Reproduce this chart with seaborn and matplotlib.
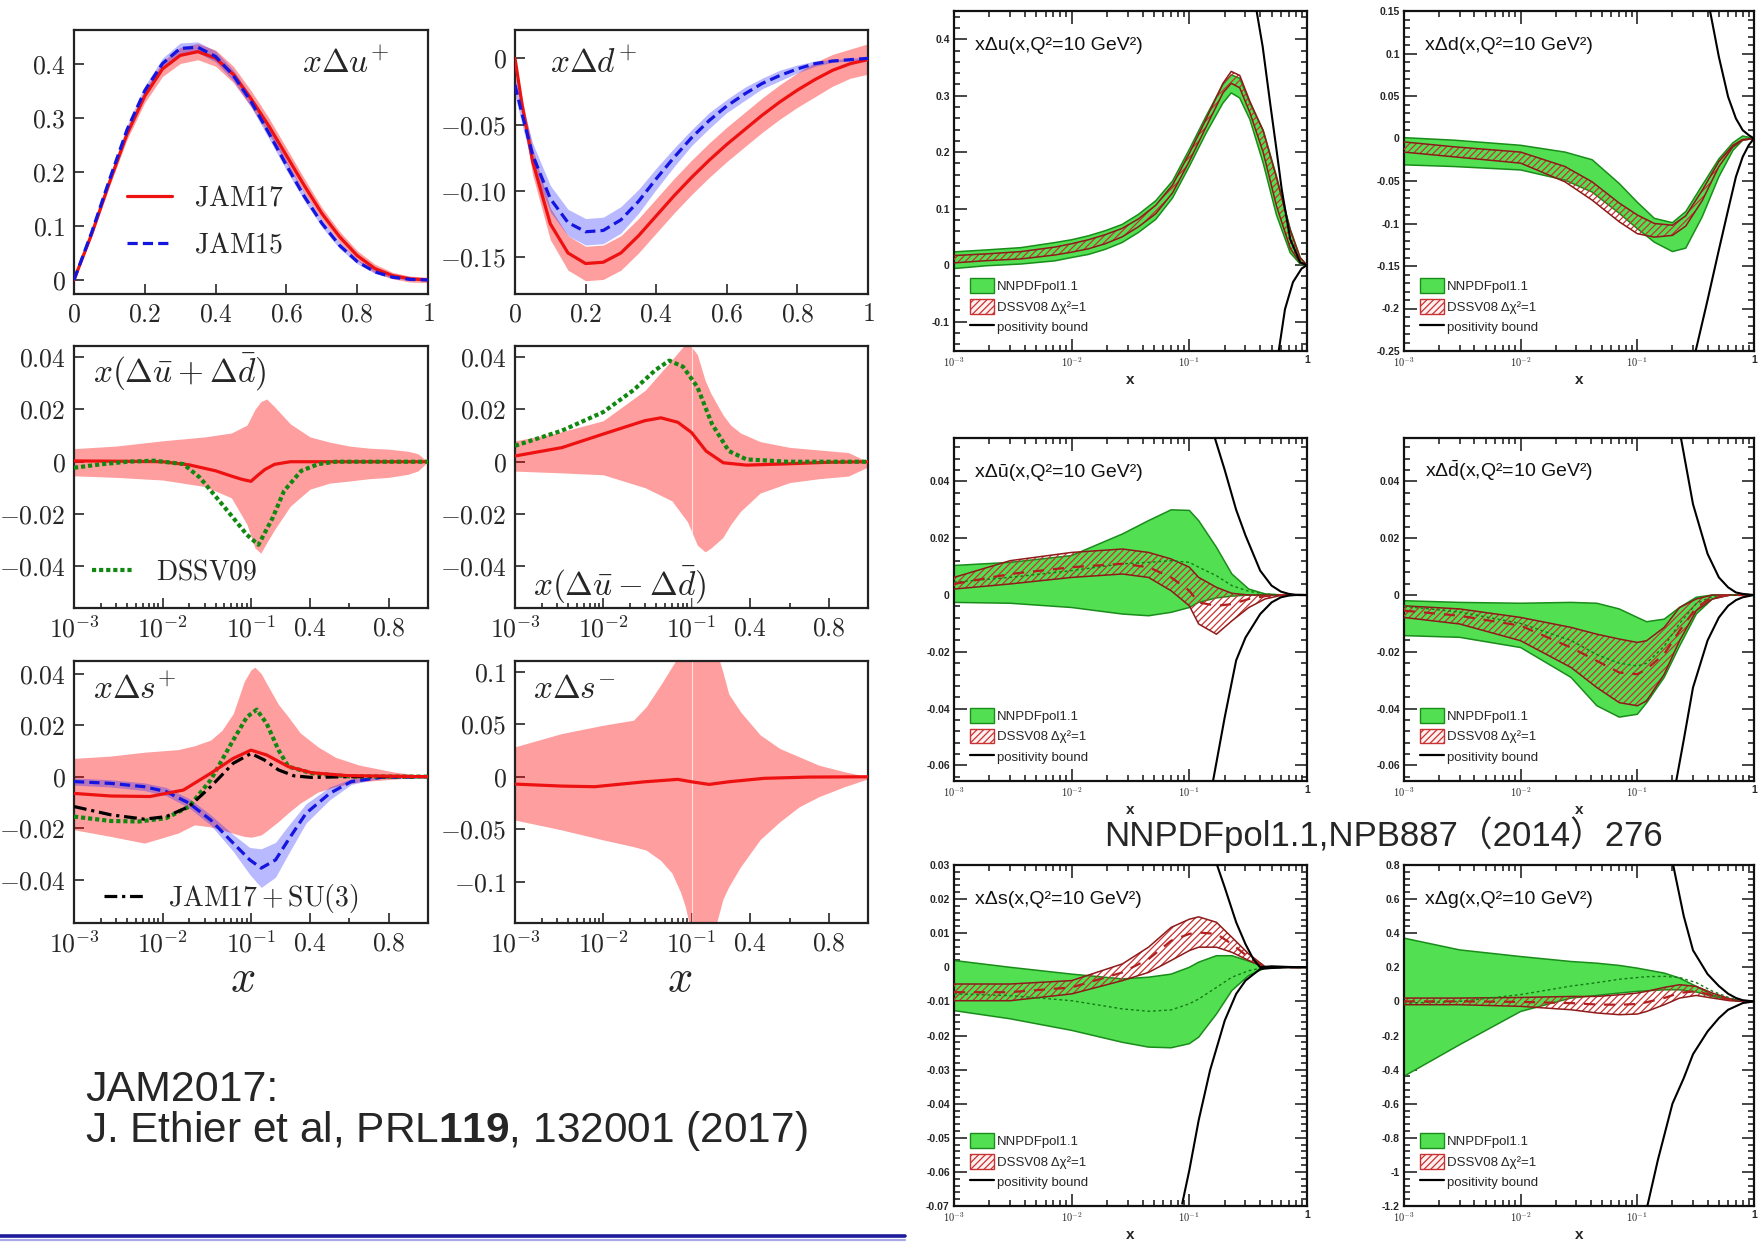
import numpy as np
import matplotlib
matplotlib.use('Agg')
import matplotlib.pyplot as plt
import seaborn as sns
from matplotlib.lines import Line2D
from matplotlib.patches import Patch
from matplotlib.ticker import FixedLocator, FixedFormatter, AutoMinorLocator, LogLocator, NullFormatter

# ---------------------------------------------------------------- JAM data
# xΔu+ (linear x)
ju_x = [0, 0.05, 0.1, 0.15, 0.2, 0.25, 0.3, 0.35, 0.4, 0.45, 0.5, 0.55, 0.6, 0.65, 0.7, 0.75, 0.8, 0.85, 0.9, 0.95, 1.0]
ju_17 = [0, 0.085, 0.18, 0.27, 0.34, 0.39, 0.415, 0.422, 0.41, 0.38, 0.335, 0.285, 0.23, 0.175, 0.123, 0.08, 0.045, 0.021, 0.008, 0.002, 0]
ju_17_up = [0.0, 0.09, 0.187, 0.28, 0.352, 0.404, 0.43, 0.437, 0.425, 0.395, 0.35, 0.3, 0.244, 0.188, 0.134, 0.09, 0.054, 0.029, 0.014, 0.007, 0.005]
ju_17_lo = [0.0, 0.08, 0.173, 0.26, 0.328, 0.376, 0.4, 0.407, 0.395, 0.365, 0.32, 0.27, 0.216, 0.162, 0.112, 0.07, 0.036, 0.013, 0.002, -0.004, -0.005]
ju_15 = [0, 0.088, 0.185, 0.278, 0.35, 0.40, 0.428, 0.43, 0.413, 0.378, 0.33, 0.272, 0.212, 0.155, 0.105, 0.064, 0.034, 0.015, 0.005, 0.001, 0]
ju_15_up = [0, 0.092, 0.191, 0.286, 0.359, 0.41, 0.438, 0.44, 0.423, 0.388, 0.34, 0.282, 0.221, 0.163, 0.112, 0.07, 0.038, 0.018, 0.007, 0.002, 0.001]
ju_15_lo = [0, 0.084, 0.179, 0.27, 0.341, 0.39, 0.418, 0.42, 0.403, 0.368, 0.32, 0.262, 0.203, 0.147, 0.098, 0.058, 0.03, 0.012, 0.003, 0.0, -0.001]

# xΔd+ (linear x)
jd_x = [0, 0.02, 0.05, 0.1, 0.15, 0.2, 0.25, 0.3, 0.35, 0.4, 0.45, 0.5, 0.55, 0.6, 0.65, 0.7, 0.75, 0.8, 0.85, 0.9, 0.95, 1.0]
jd_17 = [0, -0.035, -0.078, -0.125, -0.147, -0.155, -0.154, -0.147, -0.134, -0.119, -0.104, -0.090, -0.077, -0.065, -0.054, -0.043, -0.033, -0.024, -0.016, -0.009, -0.004, -0.001]
jd_17_up = [0.0, -0.03, -0.068, -0.113, -0.134, -0.142, -0.141, -0.134, -0.121, -0.106, -0.091, -0.077, -0.064, -0.052, -0.041, -0.030, -0.020, -0.011, -0.003, 0.003, 0.007, 0.011]
jd_17_lo = [0.0, -0.04, -0.088, -0.137, -0.16, -0.168, -0.167, -0.16, -0.147, -0.132, -0.117, -0.103, -0.09, -0.078, -0.067, -0.056, -0.046, -0.037, -0.029, -0.021, -0.015, -0.012]
jd_15 = [-0.02, -0.042, -0.073, -0.106, -0.124, -0.131, -0.13, -0.122, -0.108, -0.091, -0.075, -0.06, -0.047, -0.036, -0.027, -0.019, -0.013, -0.008, -0.004, -0.002, -0.001, 0]
jd_15_up = [-0.012, -0.034, -0.064, -0.096, -0.114, -0.121, -0.12, -0.112, -0.099, -0.083, -0.068, -0.054, -0.041, -0.031, -0.022, -0.015, -0.009, -0.005, -0.002, -0.001, 0.0, 0.001]
jd_15_lo = [-0.028, -0.05, -0.082, -0.116, -0.134, -0.141, -0.14, -0.132, -0.117, -0.099, -0.082, -0.066, -0.053, -0.041, -0.032, -0.023, -0.017, -0.011, -0.006, -0.003, -0.002, -0.001]

# x(Δū+Δd̄)
jp_x = [1e-3, 3e-3, 1e-2, 2e-2, 4e-2, 6e-2, 0.08, 0.1, 0.13, 0.17, 0.22, 0.3, 0.4, 0.6, 0.8, 1.0]
jp_17 = [0.0003, 0.0002, 0.0, -0.0012, -0.0035, -0.0055, -0.0068, -0.0075, -0.0055, -0.003, -0.001, 0, 0, 0, 0, 0]
jp_band_x = [1e-3, 3e-3, 1e-2, 3e-2, 6e-2, 0.09, 0.12, 0.15, 0.18, 0.22, 0.3, 0.4, 0.5, 0.6, 0.7, 0.8, 0.9, 0.95, 1.0]
jp_band_up = [0.005, 0.006, 0.008, 0.0095, 0.011, 0.014, 0.02, 0.023, 0.024, 0.021, 0.0145, 0.0095, 0.0075, 0.006, 0.0052, 0.0048, 0.004, 0.003, 0.0]
jp_band_lo = [-0.0054, -0.006, -0.007, -0.0095, -0.0138, -0.024, -0.033, -0.035, -0.031, -0.026, -0.017, -0.0105, -0.0082, -0.0074, -0.0065, -0.006, -0.0048, -0.0035, 0.0]
jp_dssv_x = [1e-3, 2e-3, 4e-3, 8e-3, 0.0172, 0.0265, 0.041, 0.063, 0.09, 0.138, 0.21, 0.268, 0.355, 0.443, 0.53, 0.7, 1.0]
jp_dssv = [-0.0023, -0.001, 0.0, 0.0004, -0.0009, -0.0061, -0.0138, -0.0215, -0.028, -0.0318, -0.0215, -0.0112, -0.0035, -0.0009, 0, 0, 0]

# x(Δū−Δd̄)
jm_x = [1e-3, 3.4e-3, 1e-2, 0.0295, 0.045, 0.07, 0.1, 0.174, 0.262, 0.38, 0.59, 0.8, 1.0]
jm_17 = [0.0022, 0.0054, 0.0106, 0.0157, 0.0168, 0.0151, 0.0112, 0.0041, -0.0004, -0.0013, -0.0008, -0.0002, 0]
jm_dssv_x = [1e-3, 3.4e-3, 1e-2, 0.022, 0.039, 0.056, 0.08, 0.13, 0.204, 0.29, 0.38, 0.59, 1.0]
jm_dssv = [0.0061, 0.0119, 0.019, 0.0274, 0.0351, 0.0387, 0.0364, 0.0286, 0.0145, 0.0041, 0.0009, 0, 0]
jm_band_x = [1e-3, 3e-3, 1e-2, 0.03, 0.06, 0.09, 0.13, 0.17, 0.2, 0.26, 0.3, 0.35, 0.45, 0.6, 0.75, 0.9, 1.0]
jm_band_up = [0.008, 0.011, 0.0157, 0.0274, 0.039, 0.046, 0.041, 0.031, 0.026, 0.018, 0.014, 0.011, 0.0077, 0.0055, 0.0045, 0.0035, 0.0]
jm_band_lo = [-0.0036, -0.0042, -0.005, -0.01, -0.015, -0.023, -0.032, -0.0345, -0.033, -0.029, -0.024, -0.019, -0.012, -0.008, -0.0065, -0.0055, -0.002]

# xΔs+
js_x = [1e-3, 2.6e-3, 7.2e-3, 0.0172, 0.035, 0.063, 0.1, 0.18, 0.29, 0.41, 0.59, 1.0]
js_17 = [-0.0065, -0.0075, -0.0077, -0.0052, 0.0013, 0.0071, 0.0103, 0.0084, 0.0039, 0.0015, 0.0004, 0]
js_su3_x = [1e-3, 2.6e-3, 6.25e-3, 0.011, 0.02, 0.035, 0.063, 0.1, 0.167, 0.24, 0.32, 0.41, 0.6, 1.0]
js_su3 = [-0.0116, -0.0148, -0.0165, -0.0155, -0.0116, -0.0039, 0.0052, 0.009, 0.0065, 0.0026, 0.0003, -0.0003, 0, 0]
js_dssv_x = [1e-3, 2.6e-3, 5.4e-3, 0.011, 0.02, 0.035, 0.063, 0.09, 0.129, 0.18, 0.24, 0.29, 0.41, 0.6, 1.0]
js_dssv = [-0.0155, -0.0172, -0.0174, -0.0161, -0.0116, -0.0013, 0.0142, 0.0232, 0.026, 0.0206, 0.0103, 0.0039, 0.0013, 0.0001, 0]
js_15_x = [1e-3, 2.6e-3, 6.25e-3, 0.011, 0.02, 0.035, 0.063, 0.097, 0.152, 0.225, 0.29, 0.38, 0.5, 0.61, 0.76, 1.0]
js_15 = [-0.0019, -0.0026, -0.0039, -0.0058, -0.0103, -0.0168, -0.0258, -0.0323, -0.0355, -0.0323, -0.0245, -0.0142, -0.0065, -0.0019, -0.0003, 0]
js_15_up = [-0.0005, -0.0012, -0.0024, -0.0042, -0.0085, -0.0148, -0.0225, -0.0275, -0.028, -0.0255, -0.019, -0.0105, -0.004, -0.0008, 0.0, 0]
js_15_lo = [-0.0033, -0.004, -0.0054, -0.0074, -0.0121, -0.0188, -0.029, -0.038, -0.043, -0.039, -0.03, -0.018, -0.009, -0.003, -0.0006, 0]
js_band_x = [1e-3, 2.6e-3, 6.25e-3, 0.015, 0.023, 0.035, 0.047, 0.063, 0.084, 0.1, 0.12, 0.152, 0.18, 0.24, 0.29, 0.35, 0.44, 0.53, 0.65, 0.82, 1.0]
js_band_up = [0.0071, 0.008, 0.0095, 0.0105, 0.012, 0.0142, 0.018, 0.0245, 0.037, 0.0415, 0.0425, 0.04, 0.0361, 0.028, 0.0232, 0.017, 0.0116, 0.0075, 0.0045, 0.0019, 0]
js_band_lo = [-0.0206, -0.0232, -0.0258, -0.0219, -0.0187, -0.0195, -0.0206, -0.022, -0.0232, -0.0235, -0.0232, -0.0226, -0.021, -0.0174, -0.014, -0.0103, -0.006, -0.0039, -0.002, -0.001, 0]

# xΔs−
jsm_x = [1e-3, 3.4e-3, 8e-3, 0.0295, 0.07, 0.1, 0.19, 0.29, 0.47, 0.7, 1.0]
jsm_17 = [-0.007, -0.0089, -0.0095, -0.0048, -0.0025, -0.0048, -0.0073, -0.0048, -0.0015, -0.0003, 0]
jsm_band_x = [1e-3, 3.4e-3, 1e-2, 0.022, 0.0306, 0.045, 0.06, 0.075, 0.085, 0.1, 0.15, 0.22, 0.26, 0.29, 0.35, 0.45, 0.55, 0.65, 0.75, 0.88, 1.0]
jsm_band_up = [0.0286, 0.0413, 0.0492, 0.054, 0.0667, 0.088, 0.105, 0.118, 0.125, 0.13, 0.135, 0.125, 0.1, 0.079, 0.062, 0.04, 0.027, 0.019, 0.011, 0.0048, 0.0]
jsm_band_lo = [-0.0413, -0.0508, -0.0603, -0.0667, -0.07, -0.08, -0.092, -0.11, -0.124, -0.15, -0.17, -0.145, -0.117, -0.105, -0.086, -0.06, -0.043, -0.0286, -0.019, -0.0095, -0.002]

# ---------------------------------------------------------------- NNPDF data
nu_x = [0.001, 0.0019, 0.0037, 0.0072, 0.01, 0.0139, 0.0193, 0.0268, 0.037, 0.0518, 0.072, 0.1, 0.139, 0.193, 0.227, 0.268, 0.327, 0.424, 0.55, 0.72, 0.875, 1.0]
nu_g_up = [0.0235, 0.027, 0.031, 0.04, 0.045, 0.052, 0.061, 0.072, 0.09, 0.114, 0.149, 0.205, 0.264, 0.32, 0.337, 0.331, 0.287, 0.239, 0.158, 0.064, 0.0135, 0]
nu_g_lo = [-0.006, -0.001, 0.002, 0.0076, 0.0135, 0.019, 0.028, 0.04, 0.058, 0.081, 0.119, 0.175, 0.234, 0.287, 0.305, 0.296, 0.258, 0.181, 0.089, 0.022, 0.002, 0]
nu_r_up = [0.017, 0.02, 0.024, 0.032, 0.038, 0.045, 0.054, 0.065, 0.082, 0.106, 0.142, 0.198, 0.259, 0.322, 0.343, 0.336, 0.29, 0.238, 0.155, 0.062, 0.013, 0]
nu_r_lo = [0.004, 0.008, 0.011, 0.018, 0.023, 0.029, 0.038, 0.05, 0.068, 0.091, 0.128, 0.184, 0.245, 0.305, 0.322, 0.314, 0.27, 0.2, 0.105, 0.03, 0.004, 0]
nu_pu_x = [0.373, 0.42, 0.486, 0.55, 0.61, 0.72, 0.875, 1.0]
nu_pu = [0.45, 0.387, 0.287, 0.205, 0.134, 0.046, 0.005, 0]
nu_pl_x = [0.572, 0.65, 0.76, 0.9, 1.0]
nu_pl = [-0.155, -0.078, -0.03, -0.006, 0]

nd_x = [1e-3, 2.7e-3, 1e-2, 2.4e-2, 0.041, 0.07, 0.1, 0.14, 0.2, 0.26, 0.36, 0.5, 0.66, 0.8, 1.0]
nd_g_up = [0.001, -0.002, -0.008, -0.016, -0.025, -0.053, -0.075, -0.094, -0.099, -0.086, -0.055, -0.024, -0.005, 0.003, 0]
nd_g_lo = [-0.031, -0.033, -0.037, -0.049, -0.063, -0.088, -0.106, -0.122, -0.133, -0.129, -0.092, -0.045, -0.014, -0.002, 0]
nd_r_up = [-0.004, -0.0098, -0.016, -0.033, -0.051, -0.076, -0.09, -0.1, -0.102, -0.091, -0.061, -0.027, -0.008, -0.001, 0]
nd_r_lo = [-0.016, -0.0216, -0.029, -0.051, -0.0725, -0.098, -0.112, -0.116, -0.114, -0.103, -0.073, -0.033, -0.0098, -0.002, 0]
nd_pu_x = [0.42, 0.5, 0.6, 0.7, 0.8, 0.9, 1.0]
nd_pu = [0.15, 0.096, 0.049, 0.0235, 0.0098, 0.004, 0]
nd_pl_x = [0.31, 0.4, 0.5, 0.6, 0.7, 0.8, 0.9, 1.0]
nd_pl = [-0.255, -0.19, -0.131, -0.084, -0.045, -0.0216, -0.008, 0]

nq_x = [1e-3, 3e-3, 1e-2, 2.7e-2, 4.5e-2, 0.07, 0.1, 0.12, 0.17, 0.23, 0.32, 0.44, 0.62, 0.8, 1.0]
nub_g_up = [0.0104, 0.0115, 0.0139, 0.0215, 0.0262, 0.030, 0.0298, 0.0262, 0.0168, 0.0074, 0.0021, 0.0004, 0, 0, 0]
nub_g_lo = [-0.0026, -0.0029, -0.0044, -0.0067, -0.0073, -0.0061, -0.0044, -0.0026, -0.001, -0.0004, 0, 0, 0, 0, 0]
nub_g_c = [0.0045, 0.0062, 0.0086, 0.011, 0.0115, 0.0121, 0.0115, 0.0098, 0.0068, 0.0033, 0.0013, 0.0004, 0, 0, 0]
nub_r_up = [0.0062, 0.0121, 0.015, 0.0162, 0.015, 0.0127, 0.0098, 0.0062, 0.0027, 0.0006, 0, 0, 0, 0, 0]
nub_r_lo = [0.0021, 0.0039, 0.0062, 0.0074, 0.0062, 0.0015, -0.0038, -0.0102, -0.0138, -0.0091, -0.0044, -0.0014, 0, 0, 0]
nub_r_c = [0.0039, 0.0074, 0.0098, 0.011, 0.0098, 0.0062, 0.0015, -0.0026, -0.0038, -0.0032, -0.0014, -0.0004, 0, 0, 0]
nub_pu_x = [0.16, 0.2, 0.25, 0.3, 0.4, 0.5, 0.6, 0.7, 0.8, 1.0]
nub_pu = [0.057, 0.044, 0.030, 0.021, 0.0086, 0.0033, 0.0012, 0.0004, 0.0001, 0]
nub_pl_x = [0.155, 0.2, 0.25, 0.3, 0.4, 0.5, 0.6, 0.7, 0.8, 1.0]
nub_pl = [-0.068, -0.043, -0.023, -0.015, -0.0067, -0.0026, -0.0008, -0.0002, 0, 0]

ndb_g_up = [-0.002, -0.0026, -0.0029, -0.0026, -0.0029, -0.0049, -0.0079, -0.0094, -0.0085, -0.0044, -0.0008, 0, 0, 0, 0]
ndb_g_lo = [-0.0143, -0.0149, -0.0185, -0.029, -0.039, -0.043, -0.042, -0.038, -0.029, -0.018, -0.0067, -0.0014, 0, 0, 0]
ndb_g_c = [-0.004, -0.006, -0.01, -0.016, -0.021, -0.024, -0.025, -0.024, -0.018, -0.01, -0.003, -0.0005, 0, 0, 0]
ndb_r_up = [-0.0038, -0.0049, -0.0079, -0.0114, -0.0138, -0.0155, -0.0167, -0.0161, -0.0114, -0.0044, -0.0014, 0, 0, 0, 0]
ndb_r_lo = [-0.0079, -0.0102, -0.0161, -0.0255, -0.0326, -0.0379, -0.039, -0.0373, -0.0279, -0.0161, -0.0055, -0.0014, 0, 0, 0]
ndb_r_c = [-0.0055, -0.0073, -0.0108, -0.0185, -0.0232, -0.0273, -0.0279, -0.0261, -0.0208, -0.0126, -0.0044, -0.0008, 0, 0, 0]
ndb_pu_x = [0.23, 0.3, 0.4, 0.5, 0.6, 0.7, 0.8, 1.0]
ndb_pu = [0.058, 0.032, 0.0145, 0.0062, 0.0027, 0.0009, 0.0004, 0]
ndb_pl_x = [0.21, 0.25, 0.3, 0.4, 0.5, 0.6, 0.7, 0.8, 1.0]
ndb_pl = [-0.068, -0.051, -0.0326, -0.016, -0.0079, -0.0038, -0.0018, -0.0008, 0]

ns_g_up = [0.002, 0.0, -0.002, -0.0034, -0.0029, -0.002, 0.0, 0.0015, 0.0034, 0.0034, 0.0018, 0.0, 0, 0, 0]
ns_g_lo = [-0.0127, -0.0151, -0.0185, -0.022, -0.0234, -0.0236, -0.0224, -0.0205, -0.0137, -0.0068, -0.0024, -0.0002, 0, 0, 0]
ns_g_c = [-0.0078, -0.0083, -0.0098, -0.0122, -0.0129, -0.0125, -0.0107, -0.0093, -0.0059, -0.0029, -0.001, 0, 0, 0, 0]
ns_r_up = [-0.0049, -0.0049, -0.0039, 0.001, 0.0059, 0.0117, 0.0141, 0.0148, 0.0132, 0.0088, 0.0039, 0.0002, 0, 0, 0]
ns_r_lo = [-0.0098, -0.0098, -0.0078, -0.0039, -0.0015, 0.002, 0.0049, 0.0059, 0.0059, 0.0044, 0.002, 0, 0, 0, 0]
ns_r_c = [-0.0073, -0.0073, -0.0059, -0.0015, 0.0024, 0.0078, 0.0098, 0.0102, 0.0098, 0.0068, 0.0029, 0, 0, 0, 0]
ns_pu_x = [0.17, 0.2, 0.25, 0.3, 0.35, 0.4, 0.5, 0.7, 1.0]
ns_pu = [0.0305, 0.0234, 0.0132, 0.0068, 0.0024, 0.0, 0.0003, 0.0001, 0]
ns_pl_x = [0.087, 0.1, 0.12, 0.15, 0.2, 0.25, 0.3, 0.4, 0.5, 0.7, 1.0]
ns_pl = [-0.0693, -0.0595, -0.0449, -0.0302, -0.0156, -0.0078, -0.0039, -0.0005, -0.0002, 0, 0]

ng_g_up = [0.371, 0.302, 0.263, 0.234, 0.224, 0.211, 0.195, 0.185, 0.166, 0.137, 0.088, 0.039, 0.01, 0, 0]
ng_g_lo = [-0.439, -0.254, -0.059, 0.0195, 0.035, 0.049, 0.059, 0.062, 0.068, 0.068, 0.055, 0.029, 0.01, 0, 0]
ng_g_c = [-0.01, 0.0, 0.04, 0.09, 0.11, 0.13, 0.14, 0.145, 0.147, 0.14, 0.11, 0.06, 0.02, 0.003, 0]
ng_r_up = [0.0195, 0.0195, 0.023, 0.029, 0.029, 0.039, 0.049, 0.059, 0.082, 0.098, 0.088, 0.049, 0.016, 0, 0]
ng_r_lo = [-0.0195, -0.0195, -0.029, -0.049, -0.068, -0.078, -0.074, -0.059, -0.0195, 0.0195, 0.035, 0.0195, 0.004, 0, 0]
ng_r_c = [0.0, 0.0, -0.003, -0.01, -0.018, -0.02, -0.015, -0.005, 0.02, 0.05, 0.06, 0.035, 0.01, 0.002, 0]
ng_pu_x = [0.2, 0.25, 0.3, 0.4, 0.5, 0.6, 0.7, 0.8, 1.0]
ng_pu = [0.82, 0.5, 0.3, 0.16, 0.09, 0.045, 0.02, 0.007, 0]
ng_pl_x = [0.12, 0.15, 0.2, 0.25, 0.3, 0.4, 0.5, 0.6, 0.8, 1.0]
ng_pl = [-1.22, -0.93, -0.6, -0.45, -0.31, -0.176, -0.098, -0.049, -0.01, 0]

# ---------------------------------------------------------------- style
sns.set_style('ticks')
plt.rcParams['font.family'] = ['Liberation Sans', 'Noto Sans CJK SC', 'DejaVu Sans']
plt.rcParams['mathtext.fontset'] = 'cm'
plt.rcParams['mathtext.rm'] = 'Liberation Sans'
plt.rcParams['mathtext.it'] = 'Liberation Sans:italic'
plt.rcParams['mathtext.bf'] = 'Liberation Sans:bold'
plt.rcParams['mathtext.sf'] = 'Liberation Sans'
plt.rcParams['hatch.linewidth'] = 0.9
plt.rcParams['axes.unicode_minus'] = False

RED = '#ee1111'
RED_BAND = (1.0, 0.0, 0.0, 0.38)
BLUE = '#1515e0'
BLUE_BAND = (0.1, 0.1, 1.0, 0.3)
GREEN_D = '#118811'
NN_GREEN = '#52e052'
NN_GREEN_EDGE = '#1a8c1a'
HATCH_RED = '#c83232'
DSSV_LINE = '#8e1a1a'

W, H = 1764, 1243
fig = plt.figure(figsize=(W / 100, H / 100), dpi=100)


def add_ax(x0, y0, x1, y1):
    return fig.add_axes([x0 / W, 1 - y1 / H, (x1 - x0) / W, (y1 - y0) / H])


def fwd(x):
    x = np.asarray(x, dtype=float)
    with np.errstate(divide='ignore', invalid='ignore'):
        lg = np.log10(np.clip(x, 1e-12, None))
    return np.where(x < 0.1, lg, -1 + (x - 0.1) / 0.9 * 2)


def inv(y):
    y = np.asarray(y, dtype=float)
    return np.where(y < -1, 10.0 ** np.clip(y, -12, 5), 0.1 + (y + 1) / 2 * 0.9)


def line(ax, x, y, **kw):
    sns.lineplot(x=np.asarray(x, float), y=np.asarray(y, float), ax=ax, legend=False,
                 sort=False, estimator=None, **kw)


def jam_setup(ax, ylim, yticks, ylabels, mixed=True):
    if mixed:
        ax.set_xscale('function', functions=(fwd, inv))
        ax.set_xlim(1e-3, 1.0)
        ax.xaxis.set_major_locator(FixedLocator([1e-3, 1e-2, 1e-1, 0.4, 0.8]))
        ax.xaxis.set_major_formatter(FixedFormatter([r'$10^{-3}$', r'$10^{-2}$', r'$10^{-1}$', r'$0.4$', r'$0.8$']))
        minors = [m * 10.0 ** e for e in (-3, -2) for m in range(2, 10)] + [0.6]
        ax.xaxis.set_minor_locator(FixedLocator(minors))
        ax.xaxis.set_minor_formatter(NullFormatter())
    else:
        ax.set_xlim(0, 1)
        ax.xaxis.set_major_locator(FixedLocator([0, 0.2, 0.4, 0.6, 0.8, 1.0]))
        ax.xaxis.set_major_formatter(FixedFormatter([r'$0$', r'$0.2$', r'$0.4$', r'$0.6$', r'$0.8$', r'$1$']))
    ax.set_ylim(*ylim)
    ax.yaxis.set_major_locator(FixedLocator(yticks))
    ax.yaxis.set_major_formatter(FixedFormatter(ylabels))
    ax.tick_params(which='both', direction='in', top=False, right=False, labelsize=18.5, width=1.2)
    ax.tick_params(which='major', length=7, pad=6)
    ax.tick_params(which='minor', length=3.5)
    for sp in ax.spines.values():
        sp.set_linewidth(1.6)
        sp.set_color('#222222')
    ax.set_xlabel('')
    ax.set_ylabel('')


def nn_setup(ax, ylim, yticks, ylabels, title, custom_math=False):
    ax.set_xscale('log')
    ax.set_xlim(1e-3, 1.0)
    ax.set_ylim(*ylim)
    ax.xaxis.set_major_locator(FixedLocator([1e-3, 1e-2, 1e-1, 1.0]))
    ax.xaxis.set_major_formatter(FixedFormatter([r'$\mathsf{10^{-3}}$', r'$\mathsf{10^{-2}}$', r'$\mathsf{10^{-1}}$', '1']))
    ax.xaxis.set_minor_locator(LogLocator(base=10, subs=np.arange(2, 10)))
    ax.xaxis.set_minor_formatter(NullFormatter())
    ax.yaxis.set_major_locator(FixedLocator(yticks))
    ax.yaxis.set_major_formatter(FixedFormatter(ylabels))
    ax.yaxis.set_minor_locator(AutoMinorLocator(5))
    ax.tick_params(which='both', direction='in', top=True, right=True, labelsize=7.5, width=1.2)
    ax.tick_params(which='major', length=9, pad=3)
    ax.tick_params(which='minor', length=4.5)
    for lab in ax.get_xticklabels() + ax.get_yticklabels():
        lab.set_fontweight('bold')
    for sp in ax.spines.values():
        sp.set_linewidth(1.6)
        sp.set_color('#111111')
    ax.set_ylabel('')
    ax.set_xlabel('x', fontsize=11, fontweight='bold', labelpad=3)
    t = ax.text(0.06, 0.885, title, transform=ax.transAxes, fontsize=14, color='#111111')
    if custom_math:
        t.set_math_fontfamily('custom')
    handles = [Patch(facecolor=NN_GREEN, edgecolor=NN_GREEN_EDGE, linewidth=1),
               Patch(facecolor='#fff0f0', edgecolor=HATCH_RED, hatch='/////', linewidth=1),
               Line2D([], [], color='black', lw=1.6)]
    ax.legend(handles, ['NNPDFpol1.1', 'DSSV08 Δχ²=1', 'positivity bound'], loc='lower left',
              bbox_to_anchor=(0.045, 0.05), frameon=False, fontsize=9.5, handlelength=1.8,
              handleheight=1.35, labelspacing=0.42, handletextpad=0.25, borderpad=0, borderaxespad=0)


def nn_draw(ax, x, g_up, g_lo, r_up, r_lo, pu_x, pu, pl_x, pl, g_c=None, r_c=None):
    ax.fill_between(x, g_lo, g_up, facecolor=NN_GREEN, edgecolor='none', zorder=1)
    line(ax, x, g_up, color=NN_GREEN_EDGE, linewidth=1.1, zorder=2)
    line(ax, x, g_lo, color=NN_GREEN_EDGE, linewidth=1.1, zorder=2)
    hb = ax.fill_between(x, r_lo, r_up, facecolor='none', edgecolor=HATCH_RED, linewidth=0, zorder=3)
    hb.set_hatch('/////')
    line(ax, x, r_up, color=DSSV_LINE, linewidth=1.1, zorder=4)
    line(ax, x, r_lo, color=DSSV_LINE, linewidth=1.1, zorder=4)
    if g_c is not None:
        line(ax, x, g_c, color='#167a16', linewidth=1.0, linestyle=(0, (2, 2)), zorder=4)
    if r_c is not None:
        line(ax, x, r_c, color='#b02020', linewidth=1.6, linestyle=(0, (5, 4)), zorder=5)
    line(ax, pu_x, pu, color='black', linewidth=1.5, zorder=6)
    line(ax, pl_x, pl, color='black', linewidth=1.5, zorder=6)


# ---------------------------------------------------------------- JAM panels
LW = 2.3
DASH = (0, (3.2, 1.6))
DOT = (0, (1, 0.7))
DASHDOT = (0, (4, 1.5, 1, 1.5))
jx0 = [74, 515]
jx1 = [428, 868]
jy = [(30, 294), (346, 608), (661, 923)]

# xΔu+
ax = add_ax(jx0[0], jy[0][0], jx1[0], jy[0][1])
ax.fill_between(ju_x, ju_17_lo, ju_17_up, color=RED_BAND, lw=0, zorder=1)
ax.fill_between(ju_x, ju_15_lo, ju_15_up, color=BLUE_BAND, lw=0, zorder=1)
line(ax, ju_x, ju_17, color=RED, linewidth=LW, zorder=3)
line(ax, ju_x, ju_15, color=BLUE, linewidth=LW, linestyle=DASH, zorder=3)
jam_setup(ax, (-0.026, 0.462), [0, 0.1, 0.2, 0.3, 0.4], [r'$0$', r'$0.1$', r'$0.2$', r'$0.3$', r'$0.4$'], mixed=False)
ax.text(0.89, 0.87, r'$x\Delta u^{+}$', transform=ax.transAxes, fontsize=24, ha='right', va='center')
ax.legend([Line2D([], [], color=RED, lw=LW), Line2D([], [], color=BLUE, lw=LW, linestyle=DASH)],
          [r'$\mathrm{JAM17}$', r'$\mathrm{JAM15}$'], loc='upper left', bbox_to_anchor=(0.15, 0.41),
          frameon=False, fontsize=20, handlelength=1.6, handletextpad=0.8, labelspacing=0.75,
          borderpad=0, borderaxespad=0)

# xΔd+
ax = add_ax(jx0[1], jy[0][0], jx1[1], jy[0][1])
ax.fill_between(jd_x, jd_17_lo, jd_17_up, color=RED_BAND, lw=0, zorder=1)
ax.fill_between(jd_x, jd_15_lo, jd_15_up, color=BLUE_BAND, lw=0, zorder=1)
line(ax, jd_x, jd_17, color=RED, linewidth=LW, zorder=3)
line(ax, jd_x, jd_15, color=BLUE, linewidth=LW, linestyle=DASH, zorder=3)
jam_setup(ax, (-0.178, 0.0214), [-0.15, -0.10, -0.05, 0], [r'$-0.15$', r'$-0.10$', r'$-0.05$', r'$0$'], mixed=False)
ax.text(0.10, 0.87, r'$x\Delta d^{+}$', transform=ax.transAxes, fontsize=24, ha='left', va='center')

# x(Δū+Δd̄)
ax = add_ax(jx0[0], jy[1][0], jx1[0], jy[1][1])
jam_setup(ax, (-0.056, 0.0443), [-0.04, -0.02, 0, 0.02, 0.04], [r'$-0.04$', r'$-0.02$', r'$0$', r'$0.02$', r'$0.04$'])
ax.fill_between(jp_band_x, jp_band_lo, jp_band_up, color=RED_BAND, lw=0, zorder=1)
line(ax, jp_x, jp_17, color=RED, linewidth=LW, zorder=3)
line(ax, jp_dssv_x, jp_dssv, color=GREEN_D, linewidth=3.0, linestyle=DOT, zorder=3)
ax.text(0.055, 0.90, r'$x(\Delta\bar{u}+\Delta\bar{d})$', transform=ax.transAxes, fontsize=24, ha='left', va='center')
ax.legend([Line2D([], [], color=GREEN_D, lw=3.0, linestyle=DOT)], [r'$\mathrm{DSSV09}$'],
          loc='center left', bbox_to_anchor=(0.05, 0.135), frameon=False, fontsize=20,
          handlelength=1.5, handletextpad=0.8, borderpad=0, borderaxespad=0)

# x(Δū−Δd̄)
ax = add_ax(jx0[1], jy[1][0], jx1[1], jy[1][1])
jam_setup(ax, (-0.056, 0.0443), [-0.04, -0.02, 0, 0.02, 0.04], [r'$-0.04$', r'$-0.02$', r'$0$', r'$0.02$', r'$0.04$'])
ax.fill_between(jm_band_x, jm_band_lo, jm_band_up, color=RED_BAND, lw=0, zorder=1)
ax.axvline(0.1, color='white', lw=0.8, alpha=0.7, zorder=1.5)
line(ax, jm_x, jm_17, color=RED, linewidth=LW, zorder=3)
line(ax, jm_dssv_x, jm_dssv, color=GREEN_D, linewidth=3.0, linestyle=DOT, zorder=3)
ax.text(0.05, 0.085, r'$x(\Delta\bar{u}-\Delta\bar{d})$', transform=ax.transAxes, fontsize=24, ha='left', va='center')

# xΔs+
ax = add_ax(jx0[0], jy[2][0], jx1[0], jy[2][1])
jam_setup(ax, (-0.0568, 0.0449), [-0.04, -0.02, 0, 0.02, 0.04], [r'$-0.04$', r'$-0.02$', r'$0$', r'$0.02$', r'$0.04$'])
ax.fill_between(js_band_x, js_band_lo, js_band_up, color=RED_BAND, lw=0, zorder=1)
ax.fill_between(js_15_x, js_15_lo, js_15_up, color=BLUE_BAND, lw=0, zorder=1)
line(ax, js_15_x, js_15, color=BLUE, linewidth=LW, linestyle=DASH, zorder=3)
line(ax, js_dssv_x, js_dssv, color=GREEN_D, linewidth=3.0, linestyle=DOT, zorder=3)
line(ax, js_su3_x, js_su3, color='black', linewidth=LW, linestyle=DASHDOT, zorder=3)
line(ax, js_x, js_17, color=RED, linewidth=LW, zorder=4)
ax.text(0.055, 0.89, r'$x\Delta s^{+}$', transform=ax.transAxes, fontsize=24, ha='left', va='center')
ax.legend([Line2D([], [], color='black', lw=LW, linestyle=DASHDOT)], [r'$\mathrm{JAM17+SU(3)}$'],
          loc='center left', bbox_to_anchor=(0.085, 0.095), frameon=False, fontsize=20,
          handlelength=1.5, handletextpad=0.8, borderpad=0, borderaxespad=0)

# xΔs−
ax = add_ax(jx0[1], jy[2][0], jx1[1], jy[2][1])
jam_setup(ax, (-0.1396, 0.1105), [-0.1, -0.05, 0, 0.05, 0.1], [r'$-0.1$', r'$-0.05$', r'$0$', r'$0.05$', r'$0.1$'])
ax.fill_between(jsm_band_x, jsm_band_lo, jsm_band_up, color=RED_BAND, lw=0, zorder=1)
ax.axvline(0.1, color='white', lw=0.8, alpha=0.7, zorder=1.5)
line(ax, jsm_x, jsm_17, color=RED, linewidth=LW, zorder=3)
ax.text(0.05, 0.89, r'$x\Delta s^{-}$', transform=ax.transAxes, fontsize=24, ha='left', va='center')

fig.text(243 / W, 1 - 979 / H, r'$x$', fontsize=32, ha='center', va='center')
fig.text(680 / W, 1 - 979 / H, r'$x$', fontsize=32, ha='center', va='center')

# ---------------------------------------------------------------- NNPDF panels
nx0 = [954, 1404]
nx1 = [1307, 1754]
ny = [(11, 351), (438, 781), (865, 1206)]

ax = add_ax(nx0[0], ny[0][0], nx1[0], ny[0][1])
nn_draw(ax, nu_x, nu_g_up, nu_g_lo, nu_r_up, nu_r_lo, nu_pu_x, nu_pu, nu_pl_x, nu_pl)
nn_setup(ax, (-0.152, 0.45), [-0.1, 0, 0.1, 0.2, 0.3, 0.4], ['-0.1', '0', '0.1', '0.2', '0.3', '0.4'],
         'xΔu(x,Q²=10 GeV²)')

ax = add_ax(nx0[1], ny[0][0], nx1[1], ny[0][1])
nn_draw(ax, nd_x, nd_g_up, nd_g_lo, nd_r_up, nd_r_lo, nd_pu_x, nd_pu, nd_pl_x, nd_pl)
nn_setup(ax, (-0.25, 0.15), [-0.25, -0.2, -0.15, -0.1, -0.05, 0, 0.05, 0.1, 0.15],
         ['-0.25', '-0.2', '-0.15', '-0.1', '-0.05', '0', '0.05', '0.1', '0.15'], 'xΔd(x,Q²=10 GeV²)')

ax = add_ax(nx0[0], ny[1][0], nx1[0], ny[1][1])
nn_draw(ax, nq_x, nub_g_up, nub_g_lo, nub_r_up, nub_r_lo, nub_pu_x, nub_pu, nub_pl_x, nub_pl, nub_g_c, nub_r_c)
nn_setup(ax, (-0.0655, 0.0553), [-0.06, -0.04, -0.02, 0, 0.02, 0.04], ['-0.06', '-0.04', '-0.02', '0', '0.02', '0.04'],
         'xΔū(x,Q²=10 GeV²)')

ax = add_ax(nx0[1], ny[1][0], nx1[1], ny[1][1])
nn_draw(ax, nq_x, ndb_g_up, ndb_g_lo, ndb_r_up, ndb_r_lo, ndb_pu_x, ndb_pu, ndb_pl_x, ndb_pl, ndb_g_c, ndb_r_c)
nn_setup(ax, (-0.0655, 0.0553), [-0.06, -0.04, -0.02, 0, 0.02, 0.04], ['-0.06', '-0.04', '-0.02', '0', '0.02', '0.04'],
         r'xΔ$\mathrm{\bar{d}}$(x,Q²=10 GeV²)', custom_math=True)

ax = add_ax(nx0[0], ny[2][0], nx1[0], ny[2][1])
nn_draw(ax, nq_x, ns_g_up, ns_g_lo, ns_r_up, ns_r_lo, ns_pu_x, ns_pu, ns_pl_x, ns_pl, ns_g_c, ns_r_c)
nn_setup(ax, (-0.07, 0.03), [-0.07, -0.06, -0.05, -0.04, -0.03, -0.02, -0.01, 0, 0.01, 0.02, 0.03],
         ['-0.07', '-0.06', '-0.05', '-0.04', '-0.03', '-0.02', '-0.01', '0', '0.01', '0.02', '0.03'],
         'xΔs(x,Q²=10 GeV²)')

ax = add_ax(nx0[1], ny[2][0], nx1[1], ny[2][1])
nn_draw(ax, nq_x, ng_g_up, ng_g_lo, ng_r_up, ng_r_lo, ng_pu_x, ng_pu, ng_pl_x, ng_pl, ng_g_c, ng_r_c)
nn_setup(ax, (-1.2, 0.8), [-1.2, -1.0, -0.8, -0.6, -0.4, -0.2, 0, 0.2, 0.4, 0.6, 0.8],
         ['-1.2', '-1', '-0.8', '-0.6', '-0.4', '-0.2', '0', '0.2', '0.4', '0.6', '0.8'],
         'xΔg(x,Q²=10 GeV²)')

# ---------------------------------------------------------------- annotations
fig.text(1383 / W, 1 - 846 / H, 'NNPDFpol1.1,NPB887（2014）276', fontsize=25, ha='center', va='baseline',
         family=['Liberation Sans', 'Noto Sans CJK SC'])
fig.text(85 / W, 1 - 1101 / H, 'JAM2017:', fontsize=31, ha='left', va='baseline')
ref = fig.text(85 / W, 1 - 1142 / H, r'J. Ethier et al, PRL$\mathbf{119}$, 132001 (2017)', fontsize=30.5,
               ha='left', va='baseline')
ref.set_math_fontfamily('custom')
fig.add_artist(Line2D([0, 905 / W], [1 - 1236 / H, 1 - 1236 / H], color='#1c1c9c', lw=2.6, transform=fig.transFigure))
fig.add_artist(Line2D([0, 905 / W], [1 - 1240 / H, 1 - 1240 / H], color='#a8a8e8', lw=1.6, transform=fig.transFigure))

fig.savefig('out.png', dpi=100)
